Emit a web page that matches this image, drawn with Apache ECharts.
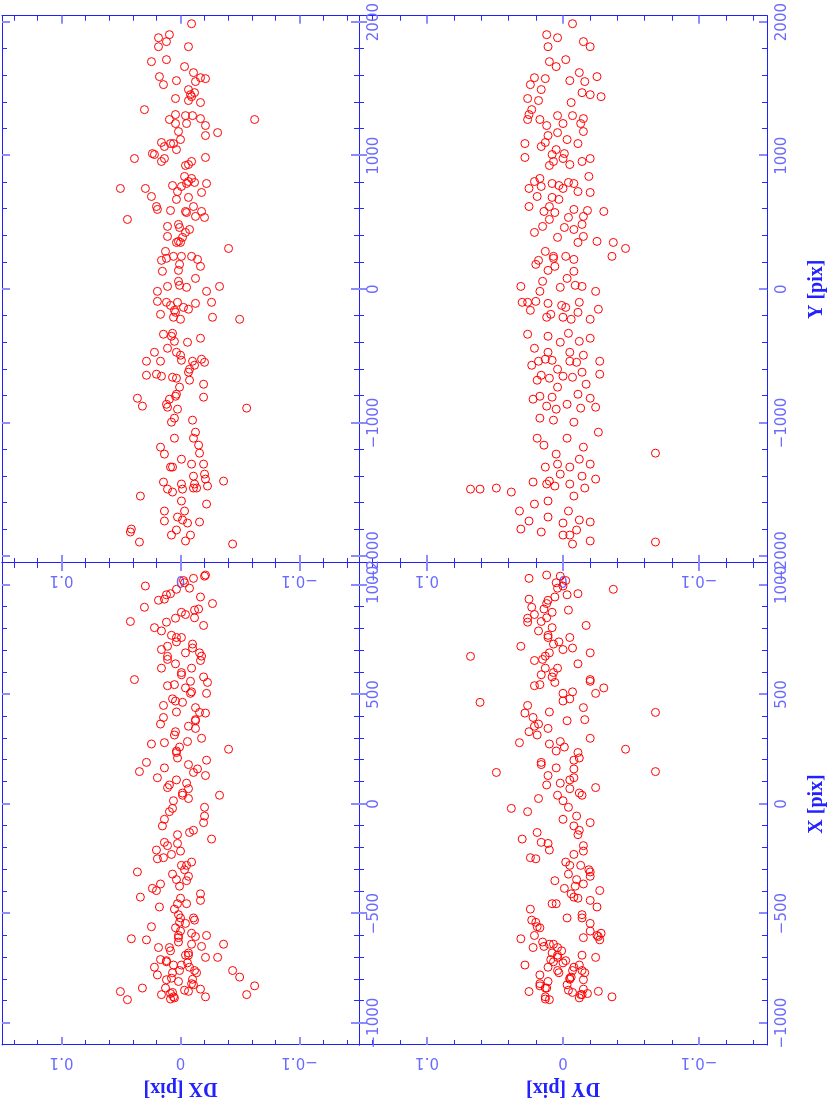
<!DOCTYPE html>
<html><head><meta charset="utf-8">
<script src="https://cdn.jsdelivr.net/npm/echarts@6/dist/echarts.min.js"></script>
<style>
html,body{margin:0;padding:0;width:830px;height:1101px;overflow:hidden;background:#fff;}
#chart{position:absolute;left:0;top:0;width:1101px;height:830px;transform-origin:0 0;transform:translate(0px,1101px) rotate(-90deg);}
</style></head><body><div id="chart"></div>
<script>
// ---- data: one entry per star (estimated from the reference panels) ----
const starY = [1988,1883,1906,1854,1816,1816,1704,1719,1667,1622,1584,1577,1555,1592,1562,1532,1495,1472,1457,1442,1413,1428,1398,1345,1271,1308,1300,1300,1271,1278,1241,1241,1226,1181,1173,1151,1121,1099,1069,1091,1091,1046,1016,1009,979,979,957,987,957,934,927,845,830,807,800,792,792,777,770,732,755,755,695,725,688,673,620,598,590,583,575,620,583,546,538,523,471,486,463,448,426,396,389,359,351,351,306,284,247,247,247,217,232,224,187,172,135,142,82,60,22,30,15,22,-15,-15,-90,-97,-120,-97,-157,-135,-149,-105,-97,-172,-187,-209,-224,-209,-224,-336,-329,-351,-389,-396,-366,-441,-471,-471,-493,-531,-538,-538,-538,-523,-546,-568,-598,-620,-643,-635,-650,-658,-665,-680,-710,-732,-785,-800,-807,-815,-874,-860,-822,-882,-897,-889,-964,-994,-979,-1069,-1114,-1114,-1166,-1181,-1233,-1226,-1271,-1308,-1308,-1330,-1330,-1398,-1383,-1420,-1435,-1442,-1457,-1457,-1495,-1517,-1495,-1487,-1487,-1472,-1547,-1584,-1607,-1659,-1659,-1734,-1704,-1726,-1749,-1741,-1794,-1816,-1801,-1839,-1839,-1891,-1883,-1906];
const starDX = [-0.0093,0.0185,0.0093,0.0118,0.0185,-0.0067,0.0244,0.0118,-0.0034,-0.0109,-0.0168,-0.021,-0.0126,0.0177,0.0034,0.0143,-0.0067,-0.0118,-0.0084,-0.0093,-0.0067,0.0042,-0.0168,0.0303,-0.0623,0.0042,-0.0042,-0.0101,0.0093,-0.0168,0.0042,-0.0051,-0.021,0.0017,-0.0312,-0.021,0,0.016,0.0135,0.0084,0.0059,0.0034,0.0236,0.0219,0.0387,0.0135,0.016,-0.021,-0.0093,-0.0067,-0.0042,-0.0034,-0.0093,-0.0067,-0.0118,-0.0051,-0.0219,0.0067,-0.0008,0.0025,0.0505,0.0295,0.0244,-0.0177,-0.0067,0.0034,0.0202,0.0194,0.0084,-0.0042,-0.0051,-0.0109,-0.0177,-0.0126,-0.0202,0.0446,0.0109,0.0017,0.0008,-0.0076,-0.0042,0.0109,-0.0017,0.0017,0.0034,0,-0.0404,0.0126,0.0059,-0.0008,-0.0093,0.016,0.0118,-0.0143,0.0008,-0.0168,0.0152,0.0017,-0.0126,0.0017,0.0109,0.0008,-0.0051,-0.0328,0.0194,-0.0219,0.0194,0.0118,0.0084,0.0025,0.0051,-0.0025,-0.0067,-0.0126,-0.0261,0.0042,0.0168,0.0059,0,-0.0269,-0.0497,0.0143,0.0067,0.0076,0.0051,-0.0059,-0.0168,0.0109,0.0219,0.0034,0,-0.0008,0.0286,0.0168,-0.0101,-0.0177,-0.0202,-0.0118,-0.0076,-0.0067,0.0286,0.0202,0.016,0.0067,0.0034,-0.0076,-0.0194,0.0008,0.0034,0.0042,-0.0194,0.0362,0.032,0.0118,0.0093,0.0109,0.0025,-0.0556,0.0051,0.0076,-0.0101,-0.0126,0.0051,-0.0109,-0.0152,0.0168,0.0135,-0.016,-0.0008,-0.0093,-0.0194,0.0084,0.0067,-0.0109,-0.0202,-0.021,-0.0362,0.0143,-0.0008,-0.0118,0.0109,0.0067,-0.0017,-0.0109,-0.0135,-0.0227,0.0337,-0.0008,-0.0219,0.0135,-0.0034,0.0135,0.0025,-0.0017,-0.0059,-0.016,0.0413,0.0421,0.0034,0.0076,-0.0084,0.0345,-0.0042,-0.0438];
const starDY = [-0.007,0.004,0.012,-0.015,0.011,-0.020,0.010,-0.002,0.005,-0.012,
0.021,0.013,-0.016,-0.025,-0.005,0.024,0.016,-0.014,-0.020,-0.028,
0.018,0.026,-0.006,0.023,0.017,0.025,0.004,-0.007,0.026,-0.015,
0.0,-0.013,0.012,-0.015,0.004,0.011,-0.003,0.013,0.016,-0.011,
0.028,0.005,-0.001,0.008,-0.020,0.0,-0.014,0.028,0.007,-0.005,
0.010,-0.019,0.017,0.021,-0.004,0.008,-0.008,0.003,0.016,-0.011,
0.025,0.0,0.019,-0.020,0.008,0.003,0.010,-0.008,-0.018,-0.030,
0.006,0.025,0.014,-0.015,-0.004,0.010,0.015,-0.014,-0.001,-0.008,
0.021,-0.015,0.004,-0.025,-0.037,-0.011,-0.046,0.013,-0.036,0.007,
-0.002,0.018,0.007,-0.008,0.020,0.006,-0.008,0.011,-0.003,0.015,
0.031,-0.009,0.002,-0.014,0.017,-0.024,0.020,0.026,0.001,-0.012,
0.024,-0.002,-0.026,0.011,0.030,-0.011,0.009,0.0,-0.020,0.012,
-0.006,0.026,-0.004,0.011,-0.012,0.002,-0.020,0.021,0.011,-0.005,
-0.015,0.008,-0.027,0.018,-0.005,0.013,-0.010,0.023,0.004,-0.014,
0.016,-0.027,0.0,-0.007,0.010,0.019,-0.017,0.004,-0.011,0.017,
0.008,-0.020,0.012,-0.003,0.022,-0.024,0.005,-0.013,0.017,-0.008,
0.007,-0.026,0.019,-0.003,0.014,-0.015,0.005,-0.068,-0.012,0.004,
-0.020,0.013,-0.005,-0.014,0.002,-0.024,0.010,0.022,-0.005,0.012,
0.068,0.038,0.061,0.049,-0.016,0.006,-0.008,0.011,0.021,0.032,
-0.004,0.025,0.011,-0.012,0.0,-0.020,0.031,0.016,-0.010,-0.005,
0.0,-0.068,-0.020,-0.007];
const starX = [512,-655,87,-802,930,-330,274,-715,1010,-120,
655,-880,385,-470,760,-245,180,-760,560,-590,
25,848,-410,898,-830,330,-690,712,-35,-845,
470,-280,1045,-610,-700,130,-520,620,-175,960,
-735,242,-385,805,568,-70,-870,415,-640,70,
690,-300,-820,355,885,-455,200,-770,590,-140,
-856,995,-560,300,-680,740,-210,120,-865,530,
-350,1030,-650,440,-15,-893,660,-505,260,-745,
865,-190,40,-600,980,-430,250,-840,-880,600,
-265,790,-720,160,-540,945,-100,-810,380,-630,
720,-375,95,40,-780,505,-250,830,-670,210,
-480,1020,-855,345,-160,640,-710,15,-580,915,
-790,450,-320,770,-885,285,-440,540,-745,110,
-215,875,-620,365,-800,675,-55,-530,985,-690,
190,-395,705,-860,420,-130,815,-760,235,-565,
580,-310,-840,955,-655,75,-455,-870,545,-230,
730,-605,315,-825,890,-365,165,418,-735,620,
-85,-890,480,-520,1040,-700,-640,395,-280,850,
674,-20,464,144,-770,555,-425,760,-600,280,
-850,935,-180,50,-725,690,-615,833,-345,-795,
505,148,-545,-760];

// tick values
const xPixMajor = [-1000,-500,0,500,1000];
const xPixMinor = [-900,-800,-700,-600,-400,-300,-200,-100,100,200,300,400,600,700,800,900];
const yPixMajor = [-2000,-1000,0,1000,2000];
const yPixMinor = [-1800,-1600,-1400,-1200,-800,-600,-400,-200,200,400,600,800,1200,1400,1600,1800];
const dMajor = [-0.1,0,0.1];
const dMinor = [-0.14,-0.12,-0.08,-0.06,-0.04,-0.02,0.02,0.04,0.06,0.08,0.12,0.14];

// ---- styling ----
const AXIS = '#2020ff', MAJ = '#8c8cff', MIN = '#2a2aff', LAB = '#6a6aff', TITLE = '#2222ff';
const fmt = v => (v < 0 ? '\u2212' + String(Math.abs(v)) : String(v));
const titleStyle = {fontFamily:'Liberation Serif', fontWeight:'bold', fontSize:20, color:TITLE};

const grids = [
  {left:56, top:2, width:482, height:357},   // DX vs X
  {left:538, top:2, width:548, height:357},  // DX vs Y
  {left:56, top:359, width:482, height:408}, // DY vs X
  {left:538, top:359, width:548, height:408} // DY vs Y
];

function axes(kind, g, min, max, major, minor, name, nameGap) {
  const pos = kind === 'x' ? ['bottom','top'] : ['left','right'];
  const base = {type:'value', gridIndex:g, min, max, splitLine:{show:false}, silent:true};
  const line = {show:true, onZero:false, lineStyle:{color:AXIS, width:1}};
  const noLine = {show:false, onZero:false};
  const out = [];
  out.push(Object.assign({}, base, {
    position:pos[0], axisLine:line,
    axisTick:{show:true, inside:true, length:8, customValues:major, lineStyle:{color:MAJ, width:2}},
    axisLabel:{show:true, customValues:major, formatter:fmt, color:LAB, fontFamily:'DejaVu Sans', fontSize:15,
               margin: kind === 'x' ? 8 : 9, rotate: kind === 'x' ? 0 : 90},
    name: name || '', nameLocation:'middle', nameGap: nameGap || 0, nameTextStyle:titleStyle
  }));
  out.push(Object.assign({}, base, {
    position:pos[0], axisLine:noLine,
    axisTick:{show:true, inside:true, length:5, customValues:minor, lineStyle:{color:MIN, width:1}},
    axisLabel:{show:false, customValues:minor}
  }));
  out.push(Object.assign({}, base, {
    position:pos[1], axisLine:line,
    axisTick:{show:true, inside:true, length:8, customValues:major, lineStyle:{color:MAJ, width:2}},
    axisLabel:{show:false, customValues:major}
  }));
  out.push(Object.assign({}, base, {
    position:pos[1], axisLine:noLine,
    axisTick:{show:true, inside:true, length:5, customValues:minor, lineStyle:{color:MIN, width:1}},
    axisLabel:{show:false, customValues:minor}
  }));
  return out;
}

const X = [-1100, 1100], Y = [-2048, 2048], D = [-0.15, 0.15];
const xAxis = [].concat(
  axes('x', 0, X[0], X[1], xPixMajor, xPixMinor),
  axes('x', 1, Y[0], Y[1], yPixMajor, yPixMinor),
  axes('x', 2, X[0], X[1], xPixMajor, xPixMinor, 'X [pix]', 40),
  axes('x', 3, Y[0], Y[1], yPixMajor, yPixMinor, 'Y [pix]', 40)
);
const yAxis = [].concat(
  axes('y', 0, D[0], D[1], dMajor, dMinor, 'DX [pix]', 33),
  axes('y', 1, D[0], D[1], dMajor, dMinor),
  axes('y', 2, D[0], D[1], dMajor, dMinor, 'DY [pix]', 33),
  axes('y', 3, D[0], D[1], dMajor, dMinor)
);

function pts(xs, ys) { return xs.map((v, i) => [v, ys[i]]); }
function scatter(g, data) {
  return {type:'scatter', xAxisIndex:4*g, yAxisIndex:4*g, data, symbol:'circle', symbolSize:8,
    itemStyle:{color:'rgba(0,0,0,0)', borderColor:'#ff0000', borderWidth:1, opacity:1},
    emphasis:{disabled:true}, animation:false, silent:true, clip:false};
}

const chart = echarts.init(document.getElementById('chart'), null, {renderer:'canvas', width:1101, height:830});
chart.setOption({
  animation:false,
  backgroundColor:'#ffffff',
  grid: grids,
  xAxis, yAxis,
  series:[
    scatter(0, pts(starX, starDX)),
    scatter(1, pts(starY, starDX)),
    scatter(2, pts(starX, starDY)),
    scatter(3, pts(starY, starDY))
  ]
});
</script></body></html>
